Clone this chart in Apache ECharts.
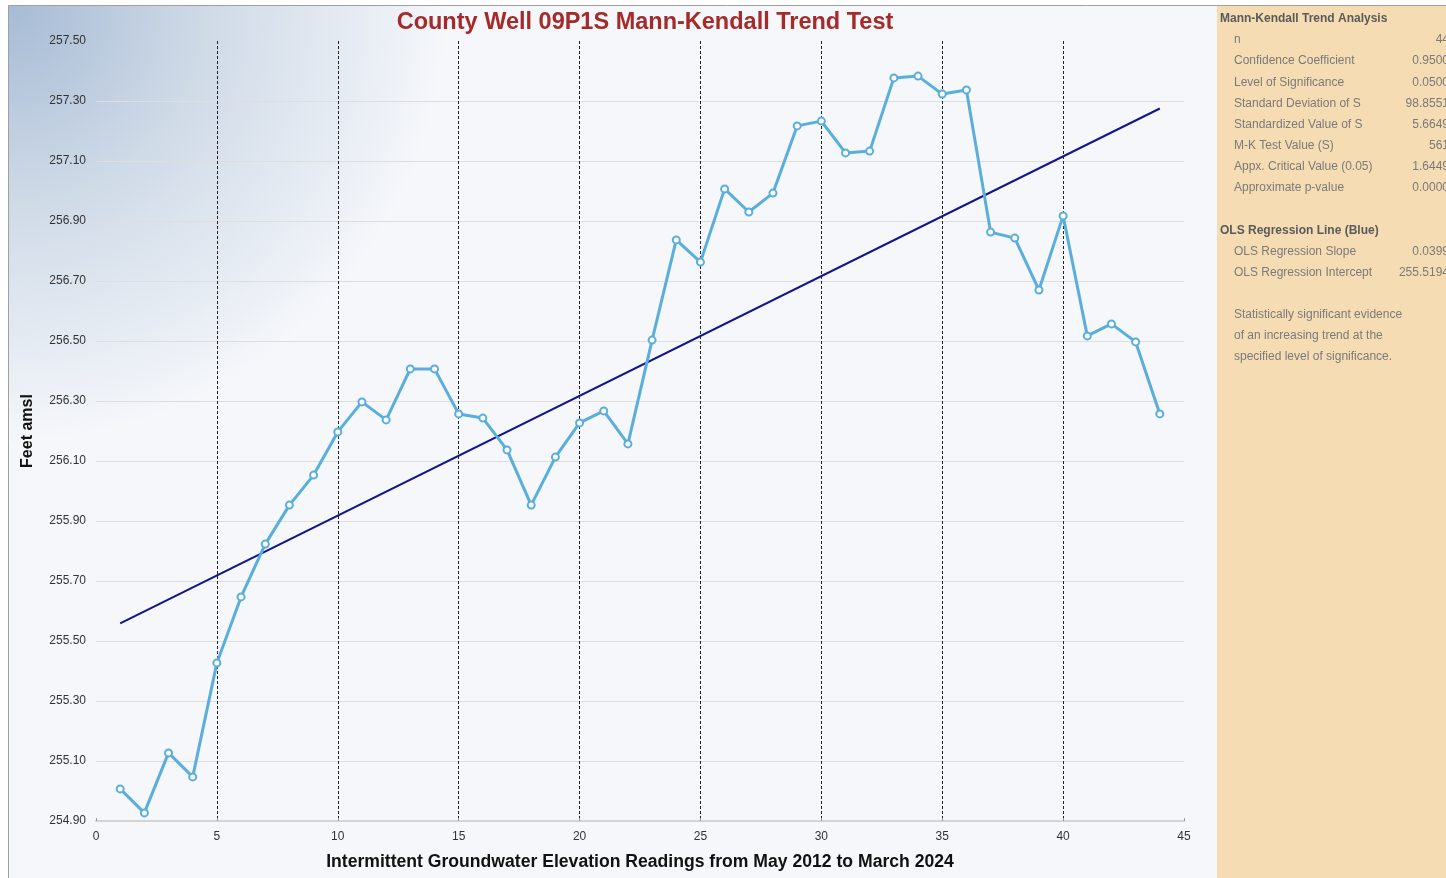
<!DOCTYPE html>
<html>
<head>
<meta charset="utf-8">
<script src="https://cdn.jsdelivr.net/npm/echarts@6/dist/echarts.min.js"></script>
<style>
  html, body { margin: 0; padding: 0; background: #fff; }
  #chart { width: 1446px; height: 878px; }
</style>
</head>
<body>
<div id="chart"></div>
<script>
// readings (index 1..44) and water elevation, feet amsl
var readings = [1,2,3,4,5,6,7,8,9,10,11,12,13,14,15,16,17,18,19,20,21,22,
                23,24,25,26,27,28,29,30,31,32,33,34,35,36,37,38,39,40,41,42,43,44];
var elevations = [255.007, 254.927, 255.127, 255.047, 255.427, 255.647, 255.823, 255.953,
                  256.053, 256.197, 256.297, 256.237, 256.407, 256.407, 256.257, 256.243,
                  256.137, 255.953, 256.113, 256.227, 256.267, 256.157, 256.503, 256.837,
                  256.763, 257.007, 256.930, 256.993, 257.217, 257.233, 257.127, 257.133,
                  257.377, 257.383, 257.323, 257.337, 256.863, 256.843, 256.670, 256.917,
                  256.517, 256.557, 256.497, 256.257];
// OLS line end points (blue line)
var olsLine = [[1, 255.559], [44, 257.275]];

var mkRows = [
  ['n', '44'],
  ['Confidence Coefficient', '0.9500'],
  ['Level of Significance', '0.0500'],
  ['Standard Deviation of S', '98.8551'],
  ['Standardized Value of S', '5.6649'],
  ['M-K Test Value (S)', '561'],
  ['Appx. Critical Value (0.05)', '1.6449'],
  ['Approximate p-value', '0.0000']
];
var olsRows = [
  ['OLS Regression Slope', '0.0399'],
  ['OLS Regression Intercept', '255.5194']
];
var noteLines = [
  'Statistically significant evidence',
  'of an increasing trend at the',
  'specified level of significance.'
];

var myChart = echarts.init(document.getElementById('chart'));

var font = 'Liberation Sans, Arial, sans-serif';
var panelText = [];
function label(x, y, s, st) {
  panelText.push({
    type: 'text', x: x, y: y, z: 10,
    style: Object.assign({ text: s, fill: '#7a7a7a', font: '12px ' + font, textVerticalAlign: 'middle' }, st || {})
  });
}
var head = { fill: '#5a5a5a', font: 'bold 12px ' + font };
label(1220, 19, 'Mann-Kendall Trend Analysis', head);
mkRows.forEach(function (r, i) {
  var y = 40 + i * 21.1;
  label(1234, y, r[0]);
  label(1449, y, r[1], { textAlign: 'right' });
});
label(1220, 231, 'OLS Regression Line (Blue)', head);
olsRows.forEach(function (r, i) {
  var y = 252 + i * 21;
  label(1234, y, r[0]);
  label(1449, y, r[1], { textAlign: 'right' });
});
noteLines.forEach(function (s, i) {
  label(1234, 315 + i * 21, s);
});

var option = {
  backgroundColor: '#ffffff',
  animation: false,
  title: {
    text: 'County Well 09P1S Mann-Kendall Trend Test',
    left: 640, top: 6, textAlign: 'center',
    textStyle: { color: '#a52a2a', fontSize: 23.5, fontWeight: 'bold', fontFamily: font }
  },
  graphic: [
    {
      type: 'rect', z: -10, silent: true,
      shape: { x: 8, y: 5, width: 1209, height: 873 },
      style: {
        fill: new echarts.graphic.RadialGradient(8, 5, 440, [
          { offset: 0, color: '#a6bbd5' },
          { offset: 0.45, color: '#cfdae7' },
          { offset: 1, color: '#f5f7fb' }
        ], true),
        stroke: null
      }
    },
    {
      type: 'rect', z: -10, silent: true,
      shape: { x: 1217, y: 5, width: 229, height: 873 },
      style: { fill: '#f5dcb3' }
    },
    {
      type: 'polyline', z: -5, silent: true,
      shape: { points: [[8.5, 878], [8.5, 5.5], [1446, 5.5]] },
      style: { stroke: '#a0a0a0', lineWidth: 1, fill: null }
    }
  ].concat(panelText),
  grid: { left: 96, right: 262, top: 41, bottom: 57 },
  xAxis: {
    type: 'value', min: 0, max: 45, interval: 5,
    name: 'Intermittent Groundwater Elevation Readings from May 2012 to March 2024',
    nameLocation: 'middle', nameGap: 32,
    nameTextStyle: { color: '#111', fontSize: 17.6, fontWeight: 'bold', fontFamily: font },
    axisLine: { show: true, lineStyle: { color: '#d4d4d4', width: 2 } },
    axisTick: { show: true, inside: true, length: 3, lineStyle: { color: '#999' } },
    axisLabel: { color: '#333', fontSize: 12, fontFamily: font, margin: 10 },
    splitLine: {
      show: true, showMinLine: false, showMaxLine: false,
      lineStyle: { color: '#222', width: 1, type: [3, 2] }
    }
  },
  yAxis: {
    type: 'value', min: 254.9, max: 257.5, interval: 0.2,
    name: 'Feet amsl', nameLocation: 'middle', nameGap: 60, nameRotate: 90,
    nameTextStyle: { color: '#111', fontSize: 16, fontWeight: 'bold', fontFamily: font },
    axisLine: { show: false },
    axisTick: { show: false },
    axisLabel: {
      color: '#333', fontSize: 12, fontFamily: font, margin: 10, padding: [3, 0, 0, 0],
      formatter: function (v) { return v.toFixed(2); }
    },
    splitLine: { show: true, showMaxLine: false, lineStyle: { color: '#dedede', width: 1 } }
  },
  series: [
    {
      name: 'OLS',
      type: 'line',
      data: olsLine,
      symbol: 'none',
      lineStyle: { color: '#14148a', width: 2 },
      z: 2
    },
    {
      name: 'Elevation',
      type: 'line',
      data: readings.map(function (r, i) { return [r, elevations[i]]; }),
      symbol: 'circle', symbolSize: 7,
      itemStyle: { color: '#ffffff', borderColor: '#5aaedb', borderWidth: 2 },
      lineStyle: { color: '#5aaedb', width: 3 },
      z: 3
    }
  ]
};

myChart.setOption(option);
</script>
</body>
</html>
